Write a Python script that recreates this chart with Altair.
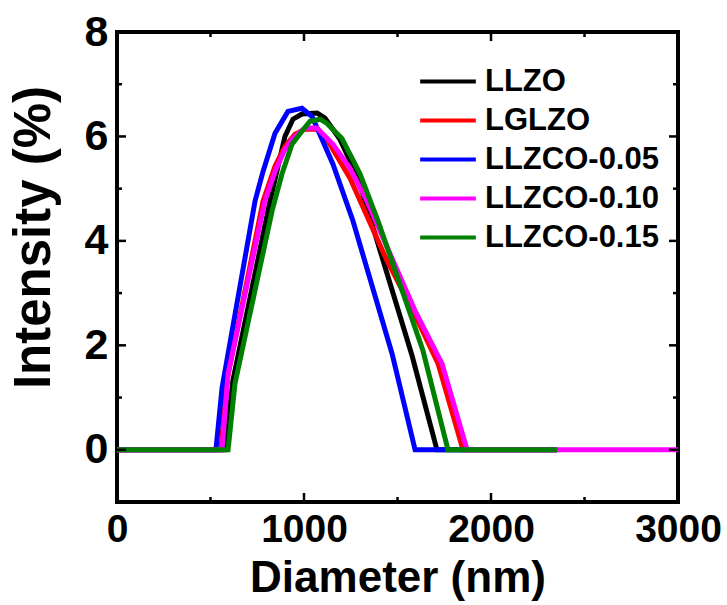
import altair as alt
import pandas as pd

# ---- data ----
names = ["LLZO", "LGLZO", "LLZCO-0.05", "LLZCO-0.10", "LLZCO-0.15"]
colors = ["#000000", "#ff0000", "#0000ff", "#ff00ff", "#008000"]

llzo_x = [0, 578, 620, 818, 898, 941, 989, 1070, 1112, 1193, 1289, 1578, 1711, 2353]
llzo_y = [0, 0, 1.33, 4.76, 6.00, 6.33, 6.43, 6.45, 6.35, 5.94, 5.20, 1.80, 0, 0]

lglzo_x = [0, 556, 588, 781, 845, 898, 952, 1005, 1070, 1123, 1246, 1444, 1583, 1717, 1850, 2353]
lglzo_y = [0, 0, 1.33, 4.76, 5.43, 5.81, 6.04, 6.14, 6.14, 5.94, 5.20, 3.62, 2.66, 1.65, 0, 0]

c05_x = [0, 529, 562, 738, 781, 845, 914, 989, 1043, 1155, 1262, 1471, 1594, 2353]
c05_y = [0, 0, 1.19, 4.76, 5.33, 6.06, 6.48, 6.54, 6.38, 5.47, 4.38, 1.84, 0, 0]

c10_x = [0, 562, 594, 791, 845, 898, 941, 1005, 1070, 1102, 1155, 1246, 1337, 1594, 1738, 1872, 3000]
c10_y = [0, 0, 1.46, 4.76, 5.33, 5.75, 5.96, 6.16, 6.16, 6.04, 5.85, 5.39, 4.76, 2.66, 1.65, 0, 0]

c15_x = [0, 594, 631, 829, 882, 936, 989, 1032, 1086, 1123, 1203, 1300, 1396, 1636, 1770, 2353]
c15_y = [0, 0, 1.27, 4.57, 5.28, 5.85, 6.10, 6.29, 6.33, 6.25, 5.96, 5.28, 4.38, 1.90, 0, 0]

series_x = [llzo_x, lglzo_x, c05_x, c10_x, c15_x]
series_y = [llzo_y, lglzo_y, c05_y, c10_y, c15_y]

x_major = [0, 1000, 2000, 3000]
x_minor = [500, 1500, 2500]
y_major = [0, 2, 4, 6, 8]
y_minor = [-1, 1, 3, 5, 7]

W, H = 561, 470
FONT = "Liberation Sans"
XDOM = [0, 3000]
YDOM = [-1, 8]

xscale = alt.Scale(domain=XDOM, nice=False, zero=False)
yscale = alt.Scale(domain=YDOM, nice=False, zero=False)
cscale = alt.Scale(domain=names, range=colors)

x_axis = alt.Axis(
    title="Diameter (nm)", values=x_major, format="d", domain=False, ticks=False,
    tickSize=0, grid=False, labelFont=FONT, labelFontSize=39, labelFontWeight="bold",
    labelColor="black", labelPadding=8, labelFlush=False,
    titleFont=FONT, titleFontSize=44, titleFontWeight="bold", titleColor="black",
    titleBaseline="alphabetic", titleY=89,
)
y_axis = alt.Axis(
    title="Intensity (%)", values=y_major, format="d", domain=False, ticks=False,
    tickSize=0, grid=False, labelFont=FONT, labelFontSize=43, labelFontWeight="bold",
    labelColor="black", labelPadding=9, labelFlush=False,
    titleFont=FONT, titleFontSize=51, titleFontWeight="bold", titleColor="black",
    titleBaseline="alphabetic", titleX=-68, titleY=205, titleAngle=270,
)

legend = alt.Legend(
    orient="none", legendX=301, legendY=34, title=None, symbolType="stroke",
    symbolSize=3100, symbolStrokeWidth=4, labelFont=FONT, labelFontSize=31,
    labelFontWeight="bold", labelColor="black", labelOffset=7, rowPadding=7,
    clipHeight=31, padding=0, labelLimit=400,
)

layers = []
for nm, xs, ys in zip(names, series_x, series_y):
    df = pd.DataFrame({"x": xs, "y": ys, "s": nm})
    layers.append(
        alt.Chart(df).mark_line(strokeWidth=5, strokeJoin="miter").encode(
            x=alt.X("x:Q", scale=xscale, axis=x_axis),
            y=alt.Y("y:Q", scale=yscale, axis=y_axis),
            color=alt.Color("s:N", scale=cscale, legend=legend),
        )
    )

# inward tick marks on all four sides of the frame
def yticks(vals, length):
    d = pd.DataFrame({"v": vals})
    left = alt.Chart(d).mark_rule(color="black", strokeWidth=2.5).encode(
        y=alt.Y("v:Q", scale=yscale, axis=y_axis), x=alt.value(0), x2=alt.value(length))
    right = alt.Chart(d).mark_rule(color="black", strokeWidth=2.5).encode(
        y=alt.Y("v:Q", scale=yscale, axis=y_axis), x=alt.value(W - length), x2=alt.value(W))
    return [left, right]

def xticks(vals, length):
    d = pd.DataFrame({"v": vals})
    bottom = alt.Chart(d).mark_rule(color="black", strokeWidth=2.5).encode(
        x=alt.X("v:Q", scale=xscale, axis=x_axis), y=alt.value(H - length), y2=alt.value(H))
    top = alt.Chart(d).mark_rule(color="black", strokeWidth=2.5).encode(
        x=alt.X("v:Q", scale=xscale, axis=x_axis), y=alt.value(0), y2=alt.value(length))
    return [bottom, top]

tick_layers = yticks(y_major, 9) + yticks(y_minor, 5) + xticks(x_major, 9) + xticks(x_minor, 5)

chart = alt.layer(*layers, *tick_layers).properties(
    width=W, height=H, autosize="none", background="white",
    padding={"left": 117, "top": 32, "right": 49, "bottom": 103},
).configure_view(stroke="black", strokeWidth=4)

chart.save("out.html", embed_options={"renderer": "svg", "actions": False})
